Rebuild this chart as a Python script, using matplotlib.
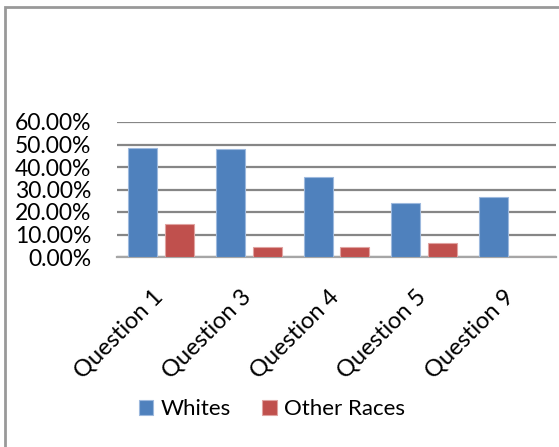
import matplotlib.pyplot as plt
import matplotlib.transforms as mtransforms
import numpy as np
from matplotlib.patches import Rectangle

questions = ['Question 1', 'Question 3', 'Question 4', 'Question 5', 'Question 9']
whites = [48.4, 47.9, 35.4, 23.9, 26.5]
other_races = [14.8, 4.3, 4.3, 6.2, 0.0]
yticks = [0, 10, 20, 30, 40, 50, 60]

plt.rcParams['font.family'] = ['Lato', 'DejaVu Sans']

fig = plt.figure(figsize=(5.59, 4.47), dpi=100)
W, H = 559, 447
ax = fig.add_axes([117 / W, (H - 257) / H, (556 - 117) / W, 135 / H])

x = np.arange(len(questions))
w = 0.33
ax.bar(x - 0.21, whites, w, color='#4F81BD', edgecolor='#9DB9DE', linewidth=0.8,
       label='Whites', zorder=3)
ax.bar(x + 0.21, other_races, w, color='#C0504D', edgecolor='#E0A3A1', linewidth=0.8,
       label='Other Races', zorder=3)

ax.set_xlim(-0.5, len(questions) - 0.5)
ax.set_ylim(0, 60)
ax.set_yticks(yticks)
ax.set_yticklabels(['%.2f%%' % v for v in yticks], fontsize=16.5)
ax.yaxis.grid(True, color='#868686', linewidth=1.6, zorder=0)
ax.tick_params(axis='y', length=0, pad=18.5)
ax.tick_params(axis='x', length=0, pad=21)
for s in ['left', 'right', 'top']:
    ax.spines[s].set_visible(False)
ax.spines['bottom'].set_color('#A6A6A6')
ax.spines['bottom'].set_linewidth(1.6)

ax.set_xticks(x)
ax.set_xticklabels(questions, fontsize=17, rotation=45, ha='right',
                   va='top', rotation_mode='anchor')
shift = mtransforms.ScaledTranslation(-9 / 100, 0, fig.dpi_scale_trans)
for lbl in ax.get_xticklabels():
    lbl.set_transform(lbl.get_transform() + shift)

fig.legend(loc='center', bbox_to_anchor=(272 / W, (H - 409) / H), ncol=2,
           frameon=False, fontsize=16, handlelength=0.65, handleheight=0.65,
           handletextpad=0.35, columnspacing=1.4)

# outer frame (only top and left edges fall inside the image)
fig.patches.append(Rectangle((5 / W, -0.1), 1.2, (H - 7) / H + 0.1,
                             transform=fig.transFigure, fill=False,
                             edgecolor='#999999', linewidth=2))

fig.savefig('out.png', dpi=100, facecolor='white')
